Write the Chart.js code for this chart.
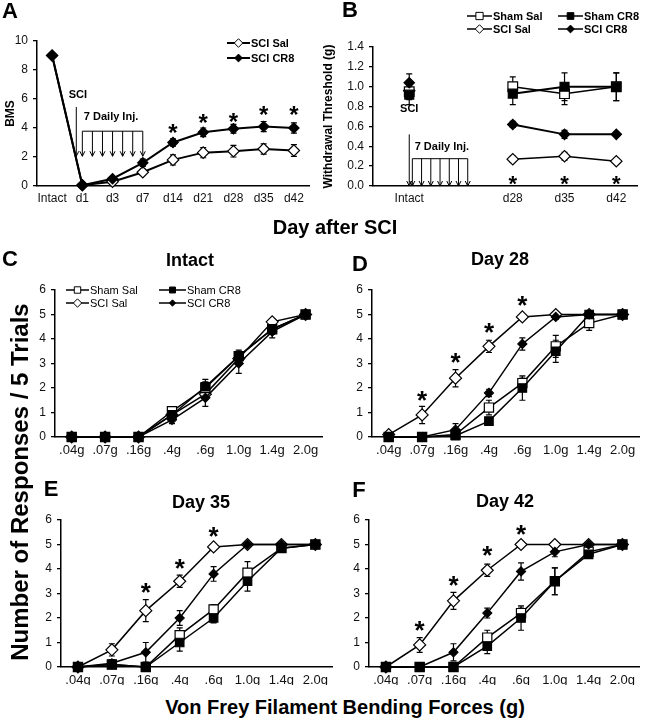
<!DOCTYPE html>
<html>
<head>
<meta charset="utf-8">
<title>BMS, withdrawal threshold and von Frey responses after SCI</title>
<script src="https://cdn.jsdelivr.net/npm/chart.js@4.4.1/dist/chart.umd.min.js"></script>
<style>
html,body{margin:0;padding:0;background:#fff}
body{position:relative;width:647px;height:720px;overflow:hidden;font-family:Arial,"Liberation Sans",Helvetica,sans-serif}
canvas{position:absolute;display:block}
.lbl{position:absolute;font-weight:bold;color:#000;white-space:nowrap;line-height:1;transform:translate(-50%,-50%)}
.rot{transform:translate(-50%,-50%) rotate(-90deg)}
</style>
</head>
<body>
<canvas id="chartA" width="320" height="215" style="left:0;top:0"></canvas>
<canvas id="chartB" width="327" height="215" style="left:320px;top:0"></canvas>
<canvas id="chartC" width="330" height="220" style="left:0;top:240px"></canvas>
<canvas id="chartD" width="317" height="220" style="left:330px;top:240px"></canvas>
<canvas id="chartE" width="340" height="215" style="left:0;top:470px"></canvas>
<canvas id="chartF" width="307" height="215" style="left:340px;top:470px"></canvas>

<div class="lbl" style="left:10px;top:11px;font-size:22px">A</div>
<div class="lbl" style="left:350px;top:10px;font-size:22px">B</div>
<div class="lbl" style="left:10px;top:259px;font-size:22px">C</div>
<div class="lbl" style="left:360px;top:264px;font-size:22px">D</div>
<div class="lbl" style="left:51px;top:489px;font-size:22px">E</div>
<div class="lbl" style="left:359px;top:490px;font-size:22px">F</div>

<div class="lbl" style="left:190px;top:260px;font-size:18px">Intact</div>
<div class="lbl" style="left:500px;top:259px;font-size:18px">Day 28</div>
<div class="lbl" style="left:201px;top:502px;font-size:18px">Day 35</div>
<div class="lbl" style="left:505px;top:501px;font-size:18px">Day 42</div>

<div class="lbl" style="left:335px;top:227px;font-size:20px">Day after SCI</div>
<div class="lbl" style="left:345px;top:707px;font-size:20px">Von Frey Filament Bending Forces (g)</div>
<div class="lbl rot" style="left:20px;top:482px;font-size:24px">Number of Responses / 5 Trials</div>

<script>
// ================= DATA =================
// Panel A - BMS score
const bmsDays      = ['Intact', 'd1', 'd3', 'd7', 'd14', 'd21', 'd28', 'd35', 'd42'];
const bmsSciSal    = [9.0, 0.05, 0.30, 0.95, 1.80, 2.30, 2.40, 2.55, 2.45];
const bmsSciSalErr = [0.10, 0.08, 0.10, 0.20, 0.35, 0.35, 0.40, 0.35, 0.40];
const bmsSciCr8    = [9.0, 0.05, 0.50, 1.60, 3.00, 3.70, 3.95, 4.10, 4.00];
const bmsSciCr8Err = [0.10, 0.08, 0.15, 0.25, 0.25, 0.30, 0.30, 0.35, 0.35];
const bmsStars     = [null, null, null, null, 3.95, 4.65, 4.75, 5.20, 5.20];

// Panel B - withdrawal threshold (g)
const wtDays       = ['Intact', '', 'd28', 'd35', 'd42'];
const wtShamSal    = [0.95, null, 1.00, 0.93, 1.00];
const wtShamSalErr = [0.08, null, 0.10, 0.11, 0.14];
const wtShamCr8    = [0.92, null, 0.93, 1.00, 1.00];
const wtShamCr8Err = [0.10, null, 0.11, 0.14, 0.14];
const wtSciSal     = [0.96, null, 0.27, 0.30, 0.25];
const wtSciSalErr  = [0.05, null, 0.03, 0.04, 0.02];
const wtSciCr8     = [1.04, null, 0.62, 0.52, 0.52];
const wtSciCr8Err  = [0.09, null, 0.03, 0.04, 0.02];
const wtStars      = [null, null, 0.06, 0.06, 0.06];

// Panels C-F - von Frey responses / 5 trials
const forces = ['.04g', '.07g', '.16g', '.4g', '.6g', '1.0g', '1.4g', '2.0g'];

const intactShamSal    = [0, 0, 0, 1.05, 2.00, 3.30, 4.40, 5.0];
const intactShamSalErr = [0, 0, 0, 0.10, 0.25, 0.25, 0.20, 0];
const intactShamCr8    = [0, 0, 0, 0.90, 2.05, 3.30, 4.40, 5.0];
const intactShamCr8Err = [0, 0, 0, 0.10, 0.30, 0.20, 0.20, 0];
const intactSciSal     = [0, 0, 0, 0.90, 1.75, 3.20, 4.70, 5.0];
const intactSciSalErr  = [0, 0, 0, 0.10, 0.20, 0.25, 0.10, 0];
const intactSciCr8     = [0, 0, 0, 0.70, 1.60, 3.00, 4.30, 5.0];
const intactSciCr8Err  = [0, 0, 0, 0.15, 0.35, 0.40, 0.25, 0.05];

const d28ShamSal    = [0, 0, 0.10, 1.20, 2.20, 3.70, 4.65, 5.0];
const d28ShamSalErr = [0, 0, 0.10, 0.30, 0.25, 0.45, 0.30, 0];
const d28ShamCr8    = [0, 0, 0.05, 0.65, 2.00, 3.50, 5.00, 5.0];
const d28ShamCr8Err = [0, 0, 0.05, 0.15, 0.50, 0.45, 0, 0];
const d28SciSal     = [0.10, 0.90, 2.40, 3.70, 4.90, 5.00, 5.00, 5.0];
const d28SciSalErr  = [0.05, 0.35, 0.35, 0.25, 0, 0, 0, 0];
const d28SciCr8     = [0, 0, 0.30, 1.80, 3.80, 4.90, 5.00, 5.0];
const d28SciCr8Err  = [0, 0, 0.25, 0.15, 0.25, 0.10, 0, 0];
const d28Stars      = [null, 1.66, 3.22, 4.45, 5.54, null, null, null];

const d35ShamSal    = [0, 0.10, 0, 1.30, 2.35, 3.85, 4.85, 5.0];
const d35ShamSalErr = [0, 0.05, 0, 0.30, 0.20, 0.45, 0.10, 0];
const d35ShamCr8    = [0, 0.10, 0, 1.00, 2.00, 3.50, 4.85, 5.0];
const d35ShamCr8Err = [0, 0.05, 0, 0.35, 0.20, 0.40, 0.10, 0];
const d35SciSal     = [0, 0.70, 2.30, 3.50, 4.90, 5.00, 5.00, 5.0];
const d35SciSalErr  = [0, 0.25, 0.45, 0.25, 0, 0, 0, 0];
const d35SciCr8     = [0, 0.15, 0.60, 2.00, 3.80, 5.00, 5.00, 5.0];
const d35SciCr8Err  = [0, 0.15, 0.40, 0.30, 0.30, 0.05, 0, 0];
const d35Stars      = [null, null, 3.22, 4.20, 5.52, null, null, null];

const d42ShamSal    = [0, 0, 0, 1.20, 2.20, 3.50, 4.70, 5.0];
const d42ShamSalErr = [0, 0, 0, 0.30, 0.25, 0.55, 0.10, 0];
const d42ShamCr8    = [0, 0, 0, 0.85, 2.00, 3.50, 4.60, 5.0];
const d42ShamCr8Err = [0, 0, 0, 0.30, 0.50, 0.55, 0.10, 0];
const d42SciSal     = [0, 0.90, 2.70, 3.95, 5.00, 5.00, 5.00, 5.0];
const d42SciSalErr  = [0, 0.30, 0.35, 0.25, 0, 0, 0, 0];
const d42SciCr8     = [0, 0, 0.60, 2.20, 3.90, 4.70, 5.00, 5.0];
const d42SciCr8Err  = [0, 0, 0.35, 0.20, 0.35, 0.20, 0, 0];
const d42Stars      = [null, 1.66, 3.49, 4.74, 5.59, null, null, null];

// ================= STYLE / HELPERS =================
const FONT = 'Arial, "Liberation Sans", Helvetica, sans-serif';
Chart.defaults.font.family = FONT;
Chart.defaults.color = '#111';
Chart.defaults.animation = false;

const SERIES = {
  'Sham Sal': {style: 'rect',    fill: '#fff', r: 6.5},
  'Sham CR8': {style: 'rect',    fill: '#000', r: 6},
  'SCI Sal':  {style: 'rectRot', fill: '#fff', r: 6},
  'SCI CR8':  {style: 'rectRot', fill: '#000', r: 4.5}
};

function series(label, data, errors, lineWidth, scale) {
  const s = SERIES[label];
  const r = s.r * (scale || 1);
  return {
    label, data, errors,
    pointStyle: s.style, pointRadius: r, pointHoverRadius: r,
    pointBackgroundColor: s.fill, pointBorderColor: '#000', pointBorderWidth: 1.2,
    borderColor: '#000', borderWidth: lineWidth,
    tension: 0, fill: false, spanGaps: false, clip: false
  };
}

function drawMarker(ctx, style, x, y, r, fill) {
  ctx.beginPath();
  if (style === 'rect') {
    const s = r * Math.SQRT1_2;
    ctx.rect(x - s, y - s, 2 * s, 2 * s);
  } else {
    ctx.moveTo(x - r, y); ctx.lineTo(x, y - r); ctx.lineTo(x + r, y); ctx.lineTo(x, y + r); ctx.closePath();
  }
  ctx.fillStyle = fill; ctx.fill();
  ctx.strokeStyle = '#000'; ctx.lineWidth = 1; ctx.stroke();
}

const errorBars = {
  id: 'errorBars',
  beforeDatasetsDraw(chart) {
    const ctx = chart.ctx, y = chart.scales.y;
    ctx.save();
    ctx.strokeStyle = '#000'; ctx.lineWidth = 1.2;
    chart.data.datasets.forEach((d, di) => {
      if (!d.errors) return;
      const meta = chart.getDatasetMeta(di);
      meta.data.forEach((pt, i) => {
        const raw = d.data[i];
        const v = (raw !== null && typeof raw === 'object') ? raw.y : raw;
        const e = d.errors[i];
        if (v === null || v === undefined || !e) return;
        const x = pt.x;
        const y1 = y.getPixelForValue(v + e), y2 = y.getPixelForValue(Math.max(0, v - e));
        ctx.beginPath();
        ctx.moveTo(x, y1); ctx.lineTo(x, y2);
        ctx.moveTo(x - 3, y1); ctx.lineTo(x + 3, y1);
        ctx.moveTo(x - 3, y2); ctx.lineTo(x + 3, y2);
        ctx.stroke();
      });
    });
    ctx.restore();
  }
};

function starPlugin(values, size) {
  return {
    id: 'stars',
    afterDatasetsDraw(chart) {
      const {ctx, scales: {x, y}} = chart;
      ctx.save();
      ctx.fillStyle = '#000';
      ctx.font = 'bold ' + size + 'px ' + FONT;
      ctx.textAlign = 'center'; ctx.textBaseline = 'alphabetic';
      const m = ctx.measureText('*');
      const off = (m.actualBoundingBoxAscent - m.actualBoundingBoxDescent) / 2;
      values.forEach((v, i) => {
        if (v === null) return;
        ctx.fillText('*', x.getPixelForValue(i), y.getPixelForValue(v) + off);
      });
      ctx.restore();
    }
  };
}

function legendPlugin(items, font, lineWidth, markerScale) {
  return {
    id: 'seriesLegend',
    afterDraw(chart) {
      const ctx = chart.ctx;
      ctx.save();
      ctx.font = font; ctx.textBaseline = 'middle'; ctx.textAlign = 'left';
      items.forEach(it => {
        const d = chart.data.datasets.find(s => s.label === it.label);
        ctx.strokeStyle = '#000'; ctx.lineWidth = lineWidth;
        ctx.beginPath(); ctx.moveTo(it.x, it.y); ctx.lineTo(it.x + it.len, it.y); ctx.stroke();
        drawMarker(ctx, d.pointStyle, it.x + it.len / 2, it.y, d.pointRadius * markerScale, d.pointBackgroundColor);
        ctx.fillStyle = '#000';
        ctx.fillText(d.label, it.x + it.len + 1, it.y + 0.5);
      });
      ctx.restore();
    }
  };
}

function drawArrow(ctx, x, yTop, yTip) {
  ctx.beginPath(); ctx.moveTo(x, yTop); ctx.lineTo(x, yTip); ctx.stroke();
  ctx.beginPath(); ctx.moveTo(x - 2.5, yTip - 5); ctx.lineTo(x, yTip); ctx.lineTo(x + 2.5, yTip - 5); ctx.stroke();
}

function injectionPlugin(o) {
  return {
    id: 'injections',
    afterDatasetsDraw(chart) {
      const {ctx, scales: {x, y}} = chart;
      ctx.save();
      ctx.strokeStyle = '#000'; ctx.fillStyle = '#000'; ctx.lineWidth = 1;
      ctx.font = 'bold 11px ' + FONT; ctx.textAlign = 'center'; ctx.textBaseline = 'middle';
      ctx.fillText('SCI', x.getPixelForValue(o.sciTextX), y.getPixelForValue(o.sciTextY));
      const yt = y.getPixelForValue(o.tipY);
      drawArrow(ctx, x.getPixelForValue(o.sciX), y.getPixelForValue(o.sciTop), yt);
      const x0 = x.getPixelForValue(o.brFrom), x1 = x.getPixelForValue(o.brTo), yb = y.getPixelForValue(o.brY);
      ctx.beginPath(); ctx.moveTo(x0, yb); ctx.lineTo(x1, yb); ctx.stroke();
      for (let k = 0; k < 7; k++) drawArrow(ctx, x0 + (x1 - x0) * k / 6, yb, yt);
      ctx.fillText('7 Daily Inj.', x.getPixelForValue(o.textX), y.getPixelForValue(o.textY));
      ctx.restore();
    }
  };
}

function yAxis(max, step, width, fontSize, title, decimals, titlePadTop) {
  return {
    min: 0, max: max,
    ticks: {stepSize: step, font: {size: fontSize}, color: '#111', padding: 5,
            callback: v => decimals ? Number(v).toFixed(decimals) : v},
    grid: {drawOnChartArea: false, drawTicks: true, tickLength: 4, color: '#000', lineWidth: 1.3},
    border: {color: '#000', width: 1.5},
    title: title ? {display: true, text: title, color: '#000', font: {size: 12, weight: 'bold'},
                    padding: {top: titlePadTop, bottom: 0}} : {display: false},
    afterFit(s) { s.width = width; }
  };
}

function xCat(fontSize, height, pad) {
  return {
    type: 'category', offset: true,
    ticks: {font: {size: fontSize}, color: '#111', padding: pad, autoSkip: false, maxRotation: 0},
    grid: {display: false, drawTicks: false},
    border: {color: '#000', width: 1.5},
    afterFit(s) { s.height = height; }
  };
}

function makeChart(id, labels, datasets, padding, xScale, yScale, plugins) {
  return new Chart(document.getElementById(id), {
    type: 'line',
    data: labels ? {labels, datasets} : {datasets},
    options: {
      responsive: false, maintainAspectRatio: false, animation: false,
      layout: {padding},
      plugins: {legend: {display: false}, tooltip: {enabled: false}, title: {display: false}},
      scales: {x: xScale, y: yScale}
    },
    plugins: [errorBars].concat(plugins)
  });
}

// ================= PANEL A =================
makeChart('chartA', bmsDays,
  [series('SCI CR8', bmsSciCr8, bmsSciCr8Err, 2, 1.15),
   series('SCI Sal', bmsSciSal, bmsSciSalErr, 2, 0.95)],
  {left: 0, top: 41, right: 11, bottom: 9},
  xCat(12, 20, 5),
  yAxis(10, 2, 37, 12, 'BMS', 0, 3),
  [starPlugin(bmsStars, 24),
   injectionPlugin({sciTextX: 0.85, sciTextY: 6.3, sciX: 0.8, sciTop: 5.45, tipY: 2.05,
                    brFrom: 1, brTo: 3, brY: 3.78, textX: 1.95, textY: 4.75}),
   legendPlugin([{label: 'SCI Sal', x: 227, y: 43, len: 23}, {label: 'SCI CR8', x: 227, y: 58, len: 23}],
                'bold 11px ' + FONT, 2, 0.75)]
);

// ================= PANEL B =================
const toXY = arr => arr.map((v, i) => ({x: i, y: v}));
makeChart('chartB', null,
  [series('Sham CR8', toXY(wtShamCr8), wtShamCr8Err, 2, 1.05),
   series('SCI CR8', toXY(wtSciCr8), wtSciCr8Err, 2, 1.15),
   series('Sham Sal', toXY(wtShamSal), wtShamSalErr, 1.5, 1.05),
   series('SCI Sal', toXY(wtSciSal), wtSciSalErr, 1.5, 0.95)],
  {left: 0, top: 47, right: 10, bottom: 9},
  {
    type: 'linear', min: -0.7, max: 4.4,
    afterBuildTicks(s) { s.ticks = wtDays.map((_, i) => ({value: i})); },
    ticks: {font: {size: 12}, color: '#111', padding: 5, autoSkip: false, maxRotation: 0,
            callback: v => (wtDays[v] !== undefined ? wtDays[v] : '')},
    grid: {display: false, drawTicks: false},
    border: {color: '#000', width: 1.5},
    afterFit(s) { s.height = 20; }
  },
  yAxis(1.4, 0.2, 53, 12, 'Withdrawal Threshold (g)', 1, 1),
  [starPlugin(wtStars, 22),
   injectionPlugin({sciTextX: 0, sciTextY: 0.775, sciX: 0, sciTop: 0.52, tipY: 0,
                    brFrom: 0.06, brTo: 1.13, brY: 0.275, textX: 0.63, textY: 0.39}),
   legendPlugin([{label: 'Sham Sal', x: 147, y: 16, len: 25}, {label: 'Sham CR8', x: 238, y: 16, len: 25},
                 {label: 'SCI Sal', x: 147, y: 29, len: 25}, {label: 'SCI CR8', x: 238, y: 29, len: 25}],
                'bold 11px ' + FONT, 1.5, 0.75)]
);

// ================= PANELS C-F =================
function vfDatasets(shamSal, shamSalErr, shamCr8, shamCr8Err, sciSal, sciSalErr, sciCr8, sciCr8Err) {
  return [series('Sham CR8', shamCr8, shamCr8Err, 1.5),
          series('SCI CR8', sciCr8, sciCr8Err, 1.5),
          series('Sham Sal', shamSal, shamSalErr, 1.5),
          series('SCI Sal', sciSal, sciSalErr, 1.5)];
}

makeChart('chartC', forces,
  vfDatasets(intactShamSal, intactShamSalErr, intactShamCr8, intactShamCr8Err,
             intactSciSal, intactSciSalErr, intactSciCr8, intactSciCr8Err),
  {left: 0, top: 50, right: 1, bottom: 3},
  xCat(13, 20, 6),
  yAxis(6, 1, 55, 12, null, 0, 0),
  [legendPlugin([{label: 'Sham Sal', x: 66, y: 50, len: 23}, {label: 'Sham CR8', x: 159, y: 50, len: 27},
                 {label: 'SCI Sal', x: 66, y: 63, len: 23}, {label: 'SCI CR8', x: 159, y: 63, len: 27}],
                '11px ' + FONT, 1.5, 0.7)]
);

makeChart('chartD', forces,
  vfDatasets(d28ShamSal, d28ShamSalErr, d28ShamCr8, d28ShamCr8Err,
             d28SciSal, d28SciSalErr, d28SciCr8, d28SciCr8Err),
  {left: 0, top: 50, right: 2, bottom: 3},
  xCat(13, 20, 6),
  yAxis(6, 1, 42, 12, null, 0, 0),
  [starPlugin(d28Stars, 26)]
);

makeChart('chartE', forces,
  vfDatasets(d35ShamSal, d35ShamSalErr, d35ShamCr8, d35ShamCr8Err,
             d35SciSal, d35SciSalErr, d35SciCr8, d35SciCr8Err),
  {left: 0, top: 50, right: 5, bottom: 0},
  xCat(13, 18, 6),
  yAxis(6, 1, 61, 12, null, 0, 0),
  [starPlugin(d35Stars, 26)]
);

makeChart('chartF', forces,
  vfDatasets(d42ShamSal, d42ShamSalErr, d42ShamCr8, d42ShamCr8Err,
             d42SciSal, d42SciSalErr, d42SciCr8, d42SciCr8Err),
  {left: 0, top: 50, right: 5, bottom: 0},
  xCat(13, 18, 6),
  yAxis(6, 1, 29, 12, null, 0, 0),
  [starPlugin(d42Stars, 26)]
);
</script>
</body>
</html>
